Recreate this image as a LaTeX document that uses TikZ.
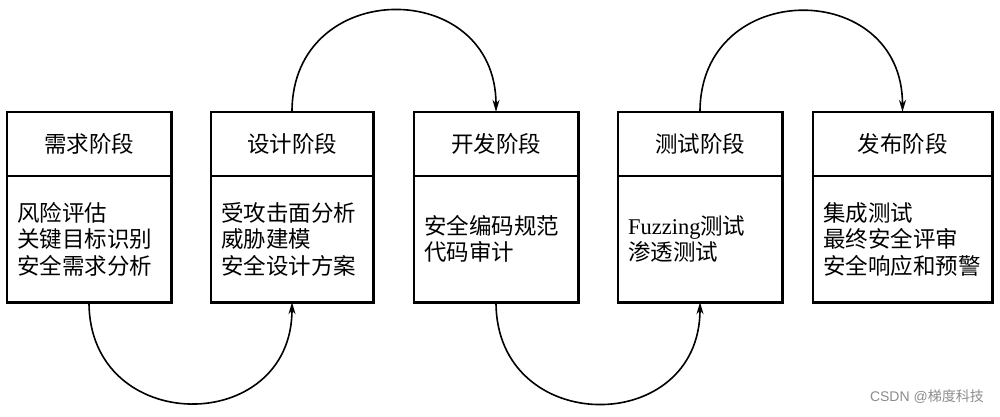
\documentclass[tikz,border=0pt]{standalone}
\usepackage{fontspec}
\setmainfont{Liberation Serif}
\newfontfamily\cjk{Noto Sans CJK SC}
\newfontfamily\wmsans{Liberation Sans}
\usetikzlibrary{arrows.meta}
\begin{document}
\begin{tikzpicture}[x=1pt,y=1pt,
  hdr/.style={minimum height=64pt, inner sep=0pt, font=\cjk\fontsize{22.5}{26}\selectfont},
  bdy/.style={minimum height=126pt, inner xsep=10pt, inner ysep=0pt, align=left, font=\cjk\fontsize{22.5}{26.5}\selectfont},
  frame/.style={line width=2.6pt},
  sepline/.style={line width=1.8pt},
  flow/.style={line width=1.6pt, -{Stealth[length=12pt,width=7pt]}, looseness=1.7},
  wm/.style={text=black!45, font=\wmsans\fontsize{14}{17}\selectfont, inner sep=0pt}]
\useasboundingbox (0,0) rectangle (1000,416);
% box 1
\node[hdr, minimum width=164pt] (h1) at (89,272) {需求阶段};
\node[bdy, text width=144pt] (b1) at (89,177) {风险评估\\关键目标识别\\安全需求分析};
% box 2
\node[hdr, minimum width=162pt] (h2) at (292,272) {设计阶段};
\node[bdy, text width=142pt] (b2) at (292,177) {受攻击面分析\\威胁建模\\安全设计方案};
% box 3
\node[hdr, minimum width=164pt] (h3) at (496,272) {开发阶段};
\node[bdy, text width=144pt] (b3) at (496,177) {安全编码规范\\代码审计};
% box 4
\node[hdr, minimum width=164pt] (h4) at (700,272) {测试阶段};
\node[bdy, text width=144pt] (b4) at (700,177) {{\rmfamily Fuzzing}测试\\渗透测试};
% box 5
\node[hdr, minimum width=179pt] (h5) at (902.5,272) {发布阶段};
\node[bdy, text width=159pt] (b5) at (902.5,177) {集成测试\\最终安全评审\\安全响应和预警};
% frames
\foreach \i in {1,...,5}{
  \draw[frame] (h\i.north west) rectangle (b\i.south east);
  \draw[sepline] (h\i.south west) -- (h\i.south east);
}
% connectors
\draw[flow] (b1.south) to[out=-90,in=-90] (b2.south);
\draw[flow] (h2.north) to[out=90,in=90] (h3.north);
\draw[flow] (b3.south) to[out=-90,in=-90] (b4.south);
\draw[flow] (h4.north) to[out=90,in=90] (h5.north);
% watermark
\node[wm, anchor=east] (wm) at (984,19) {CSDN @{\cjk 梯度科技}};
\end{tikzpicture}
\end{document}
